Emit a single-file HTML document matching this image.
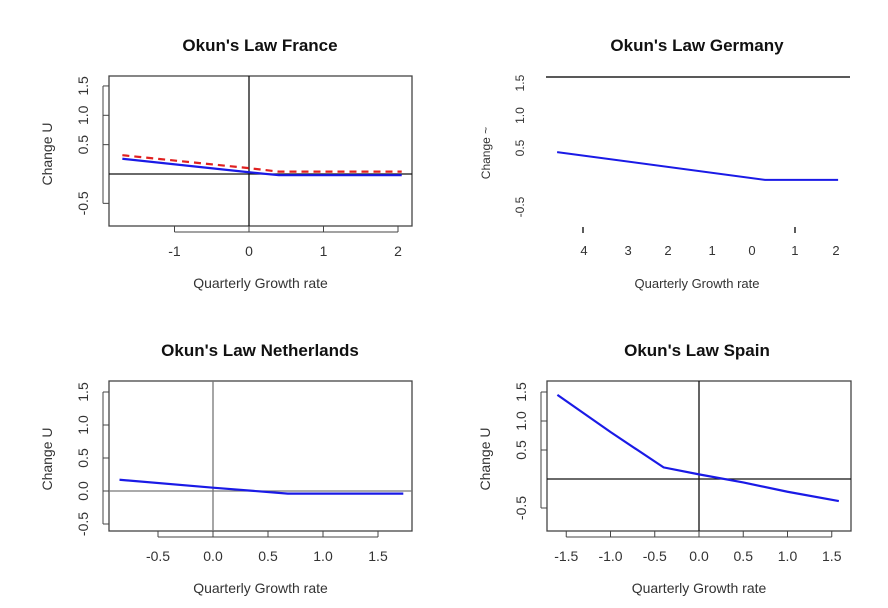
<!DOCTYPE html>
<html><head><meta charset="utf-8"><style>
body{margin:0;background:#fff;}
svg{display:block;font-family:"Liberation Sans",Arial,sans-serif;}
</style></head><body>
<svg id="c" width="888" height="608" viewBox="0 0 888 608"></svg>
<script>
// France
const frX=[-1.7,0,0.4,2.05];
const frBlue=[0.26,0.03,-0.02,-0.02];
const frRed=[0.32,0.1,0.04,0.04];
const frXTicks=[-1,0,1,2];
const frXLabels=["-1","0","1","2"];
const frYTicks=[-0.5,0.5,1.0,1.5];
const frYLabels=["-0.5","0.5","1.0","1.5"];
// Netherlands
const nlX=[-0.85,0,0.68,1.73];
const nlBlue=[0.17,0.05,-0.04,-0.04];
const nlXTicks=[-0.5,0,0.5,1,1.5];
const nlXLabels=["-0.5","0.0","0.5","1.0","1.5"];
const nlYTicks=[-0.5,0,0.5,1,1.5];
const nlYLabels=["-0.5","0.0","0.5","1.0","1.5"];
// Spain
const esX=[-1.6,-1.0,-0.4,0,0.5,1.0,1.58];
const esBlue=[1.45,0.81,0.2,0.08,-0.06,-0.22,-0.38];
const esXTicks=[-1.5,-1,-0.5,0,0.5,1,1.5];
const esXLabels=["-1.5","-1.0","-0.5","0.0","0.5","1.0","1.5"];
const esYTicks=[-0.5,0.5,1.0,1.5];
const esYLabels=["-0.5","0.5","1.0","1.5"];
// Germany
const deX=[-4.64,0.31,2.05];
const deBlue=[0.43,-0.04,-0.04];
const deXLabels=["4","3","2","1","0","1","2"];
const deXLabelVals=[-4,-2.95,-2,-0.95,0,1.02,2];
const deYTicks=[-0.5,0.5,1.05,1.6];
const deYLabels=["-0.5","0.5","1.0","1.5"];

const svg=document.getElementById('c');
const NS='http://www.w3.org/2000/svg';
function el(tag,attrs,parent){const e=document.createElementNS(NS,tag);for(const k in attrs)e.setAttribute(k,attrs[k]);(parent||svg).appendChild(e);return e;}
function txt(s,x,y,size,extra,parent){const t=el('text',Object.assign({x:x,y:y,'font-size':size,'text-anchor':'middle',fill:'#333'},extra||{}),parent);t.textContent=s;return t;}
function poly(xs,ys,sx,sy,attrs,g){return el('polyline',Object.assign({points:xs.map((v,i)=>sx(v)+','+sy(ys[i])).join(' '),fill:'none'},attrs),g);}

function panel(o){
  const g=el('g',{});
  
  
  const sx=v=>o.x0+(v)*o.xu, sy=v=>o.y0-(v)*o.yu;
  const t=txt(o.title,o.tcx,o.ty,17,{'font-weight':'bold',fill:'#111'},g);
  
  const box=el('rect',{x:o.bx,y:o.by,width:o.bw,height:o.bh,fill:'none',stroke:'#444','stroke-width':1.3},g);
  
  el('line',{x1:o.bx,x2:o.bx+o.bw,y1:sy(0),y2:sy(0),stroke:o.zc,'stroke-width':1.3},g);
  el('line',{x1:sx(0),x2:sx(0),y1:o.by,y2:o.by+o.bh,stroke:o.zc,'stroke-width':1.3},g);
  const xb=o.by+o.bh;
  o.xt.forEach((v,i)=>{el('line',{x1:sx(v),x2:sx(v),y1:xb,y2:xb+6,stroke:'#444'},g);
    const l=txt(o.xl[i],sx(v),xb+30,14,{},g);});
  el('line',{x1:sx(o.xt[0]),x2:sx(o.xt[o.xt.length-1]),y1:xb+6,y2:xb+6,stroke:'#444'},g);
  o.yt.forEach((v,i)=>{el('line',{x1:o.bx-6,x2:o.bx,y1:sy(v),y2:sy(v),stroke:'#444'},g);
    const X=o.bx-21,Y=sy(v);
    const l=txt(o.yl[i],X,Y,14,{transform:'rotate(-90 '+X+' '+Y+')'},g);});
  el('line',{x1:o.bx-6,x2:o.bx-6,y1:sy(o.yt[0]),y2:sy(o.yt[o.yt.length-1]),stroke:'#444'},g);
  const xt=txt('Quarterly Growth rate',o.bx+o.bw/2,xb+62,14,{},g);
  const yX=o.bx-57,yY=o.by+o.bh/2+3;
  const yt=txt('Change U',yX,yY,14,{transform:'rotate(-90 '+yX+' '+yY+')'},g);
  o.series.forEach(s=>{const p=poly(s.x,s.y,sx,sy,s.attrs,g);});
}

panel({name:'panel-france',title:"Okun's Law France",tcx:260,ty:51,bx:109,by:76,bw:303,bh:150,x0:249,xu:74.5,y0:174,yu:58.7,zc:'#111',
  xt:frXTicks,xl:frXLabels,yt:frYTicks,yl:frYLabels,
  series:[{name:'france-red-dashed',x:frX,y:frRed,attrs:{stroke:'#e02020','stroke-width':2.2,'stroke-dasharray':'7,5'}},
          {name:'france-blue-line',x:frX,y:frBlue,attrs:{stroke:'#1a1ae6','stroke-width':2.2}}]});
panel({name:'panel-netherlands',title:"Okun's Law Netherlands",tcx:260,ty:356,bx:109,by:381,bw:303,bh:150,x0:213,xu:110,y0:491,yu:66,zc:'#777',
  xt:nlXTicks,xl:nlXLabels,yt:nlYTicks,yl:nlYLabels,
  series:[{name:'netherlands-blue-line',x:nlX,y:nlBlue,attrs:{stroke:'#1a1ae6','stroke-width':2.2}}]});
panel({name:'panel-spain',title:"Okun's Law Spain",tcx:697,ty:356,bx:547,by:381,bw:304,bh:150,x0:699,xu:88.5,y0:479,yu:58,zc:'#111',
  xt:esXTicks,xl:esXLabels,yt:esYTicks,yl:esYLabels,
  series:[{name:'spain-blue-line',x:esX,y:esBlue,attrs:{stroke:'#1a1ae6','stroke-width':2.2}}]});

(function(){
  const g=el('g',{});
  
  
  const sx=v=>752+v*42, sy=v=>177.5-v*59;
  const t=txt("Okun's Law Germany",697,51,17,{'font-weight':'bold',fill:'#111'},g);
  
  el('line',{x1:546,x2:850,y1:77,y2:77,stroke:'#222','stroke-width':1.6},g);
  deYTicks.forEach((v,i)=>{const X=524,Y=sy(v);const l=txt(deYLabels[i],X,Y,12,{transform:'rotate(-90 '+X+' '+Y+')'},g);
    });
  const yt=txt('Change ~',490,153,12,{transform:'rotate(-90 490 153)'},g);
  
  [583,795].forEach(x=>el('line',{x1:x,x2:x,y1:227,y2:233,stroke:'#333','stroke-width':1.6},g));
  deXLabelVals.forEach((v,i)=>{const l=txt(deXLabels[i],sx(v),255,13,{},g);
    });
  const xt=txt('Quarterly Growth rate',697,288,13,{},g);
  
  const p=poly(deX,deBlue,sx,sy,{stroke:'#1a1ae6','stroke-width':2},g);
  
  
})();
</script>
</body></html>
